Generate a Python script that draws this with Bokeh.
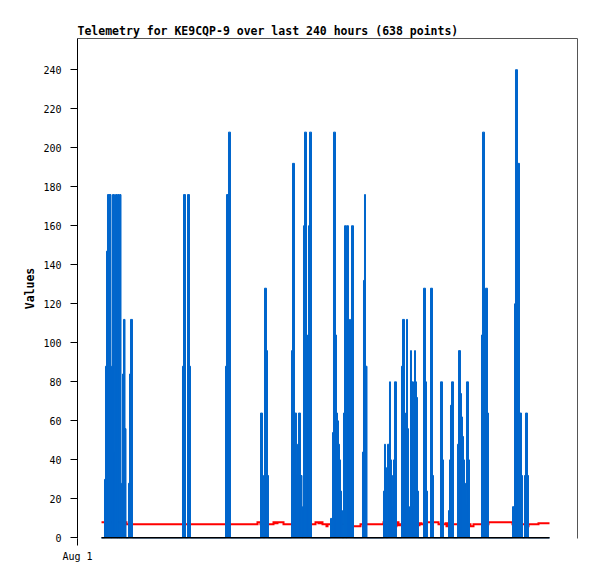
from bokeh.plotting import figure
from bokeh.models import Range1d, FixedTicker, LinearAxis
from bokeh.embed import file_html
from bokeh.resources import INLINE

# ---- data (hours since Aug 1 00:00) ----
start_hour = 12.86
end_hour = 252.86

# blue series: change points (value holds until next hour)
blue_hours = [
    12.86, 14.46, 15.0, 15.54, 16.07, 17.95, 18.21, 18.75, 19.82, 20.36, 21.16, 21.43,
    22.23, 22.5, 23.30, 23.57, 24.11, 24.64, 25.45, 25.98, 27.32, 27.86, 28.39, 29.46,
    56.25, 56.79, 57.86, 58.93, 60.0, 60.54,
    79.29, 79.82, 80.89, 81.96,
    98.04, 99.11, 99.64, 100.18, 101.25, 101.79, 102.32,
    114.64, 115.18, 116.25, 117.32, 117.86, 118.39, 119.46, 120.27, 120.54, 121.07,
    121.61, 122.68, 123.21, 123.75, 124.29, 125.36,
    135.54, 136.61, 137.14, 138.21, 138.75, 139.29, 139.82, 140.36, 140.89, 141.43,
    141.96, 142.5, 143.04, 144.11, 144.38, 145.18, 145.71, 146.25, 146.79, 147.86,
    152.68, 153.21, 153.75, 154.29, 155.09,
    163.93, 164.46, 165.0, 165.54, 166.07, 167.14, 167.68, 168.21, 168.75, 169.29,
    169.82, 170.89,
    173.57, 174.11, 175.18, 175.71, 176.25, 176.79, 177.32, 177.86, 178.39, 178.93,
    180.0, 180.54, 181.07, 181.61, 182.14, 182.68,
    185.36, 186.43, 186.96, 187.5, 189.11, 190.18, 190.71,
    194.46, 195.54, 196.07,
    198.75, 199.29, 199.82, 200.36, 201.43,
    203.57, 204.11, 205.18, 205.71, 206.25, 206.79, 207.32, 207.86, 208.39, 209.46, 210.0,
    216.43, 216.96, 218.04, 218.57, 219.64, 220.18,
    233.04, 234.11, 234.64, 235.71, 236.79, 237.86, 238.39, 239.46, 240.0, 241.07, 241.61,
    252.86,
]
blue_values = [
    0, 30, 88, 147, 176, 0, 88, 176, 44, 176, 0, 176,
    0, 176, 0, 28, 84, 112, 56, 0, 28, 84, 112, 0,
    88, 176, 0, 176, 88, 0,
    88, 176, 208, 0,
    64, 32, 0, 128, 96, 32, 0,
    96, 192, 64, 32, 48, 64, 32, 0, 16, 160,
    208, 104, 56, 160, 208, 0,
    10, 54, 208, 104, 64, 60, 48, 40, 24, 14,
    0, 64, 160, 0, 160, 64, 112, 16, 160, 0,
    44, 132, 176, 88, 0,
    24, 48, 36, 0, 48, 80, 40, 32, 16, 40,
    80, 0,
    88, 112, 56, 64, 112, 56, 16, 2, 96, 80,
    16, 96, 80, 72, 24, 0,
    128, 80, 24, 0, 128, 32, 0,
    80, 40, 0,
    14, 40, 68, 80, 0,
    48, 96, 74, 62, 52, 40, 28, 17, 80, 40, 0,
    104, 208, 64, 128, 64, 0,
    16, 120, 240, 192, 64, 32, 0, 32, 64, 32, 0,
    0,
]

# red series: change points
red_hours = [
    12.86, 26.25, 96.43, 98.04, 105.0, 106.07, 107.14, 110.36, 117.86, 118.93, 120.0,
    121.07, 127.5, 129.11, 130.18, 131.25, 133.39, 133.93, 146.25, 151.61, 163.93,
    165.0, 170.36, 170.89, 171.96, 173.04, 181.07, 182.14, 183.21, 184.29, 186.43,
    193.39, 197.14, 197.68, 198.21, 198.75, 204.11, 205.18, 206.79, 210.54, 212.14,
    220.18, 233.04, 240.0, 241.61, 246.96, 252.86,
]
red_values = [
    8, 7, 8, 7, 8, 7.5, 8, 7, 6, 7, 6,
    7, 8, 7.5, 8, 7, 6, 7, 6, 7, 8,
    7, 6, 8, 6.5, 7, 8, 6.5, 7.5, 7, 8,
    7, 7.5, 6, 7.5, 7, 6.5, 6, 7, 6, 7,
    8, 7, 6, 7, 7.5, 7.5,
]

# black series (constant zero)
black_hours = [start_hour, end_hour]
black_values = [0, 0]

y_ticks = [0, 20, 40, 60, 80, 100, 120, 140, 160, 180, 200, 220, 240]
x_tick_hours = [0]
x_tick_labels = {0: "Aug 1"}

MONO = "DejaVu Sans Mono"

p = figure(
    width=597, height=579,
    x_range=Range1d(0, 267.86), y_range=Range1d(-0.3, 256),
    output_backend="svg", toolbar_location=None,
    title="Telemetry for KE9CQP-9 over last 240 hours (638 points)",
    min_border_left=77, min_border_right=20, min_border_top=38, min_border_bottom=41,
    x_axis_type=None, y_axis_type=None,
)
p.background_fill_color = "white"
p.border_fill_color = "white"
p.outline_line_color = None
p.grid.visible = False

p.title.text_font = MONO
p.title.text_font_size = "11.5px"
p.title.text_font_style = "bold"
p.title.text_color = "black"
p.title.align = "left"
p.title.offset = 0
p.title.standoff = 1

# left axis
yax = LinearAxis(ticker=FixedTicker(ticks=y_ticks))
yax.axis_label = "Values"
yax.axis_label_text_font = MONO
yax.axis_label_text_font_size = "11.5px"
yax.axis_label_text_font_style = "bold"
yax.axis_label_text_color = "black"
yax.axis_label_standoff = 3
yax.major_label_text_font = MONO
yax.major_label_text_font_size = "10px"
yax.major_label_text_color = "black"
yax.major_label_standoff = 9
yax.major_tick_out = 7
yax.major_tick_in = 0
yax.minor_tick_out = 0
yax.minor_tick_in = 0
yax.axis_line_color = "black"
yax.major_tick_line_color = "black"
p.add_layout(yax, "left")

# bottom axis
xax = LinearAxis(ticker=FixedTicker(ticks=x_tick_hours))
xax.major_label_overrides = x_tick_labels
xax.major_label_text_font = MONO
xax.major_label_text_font_size = "10px"
xax.major_label_text_color = "black"
xax.major_label_standoff = 5
xax.major_tick_out = 7
xax.major_tick_in = 0
xax.minor_tick_out = 0
xax.minor_tick_in = 0
xax.axis_line_color = None
xax.major_tick_line_color = "black"
p.add_layout(xax, "below")

# frame borders top and right
for side in ("above", "right"):
    ax = LinearAxis(ticker=FixedTicker(ticks=[]))
    ax.axis_line_color = "#555555"
    ax.major_label_text_font_size = "0px"
    ax.major_tick_out = 0
    ax.minor_tick_out = 0
    ax.major_label_standoff = 0
    p.add_layout(ax, side)

p.step(red_hours, red_values, mode="after", line_color="#ff0000", line_width=2,
       line_join="miter")
p.quad(left=blue_hours[:-1], right=blue_hours[1:], top=blue_values[:-1], bottom=0,
       fill_color="#0066cc", line_color="#0066cc", line_width=1)
p.line(black_hours, black_values, line_color="black", line_width=2)

open("out.html", "w").write(file_html(p, INLINE))
